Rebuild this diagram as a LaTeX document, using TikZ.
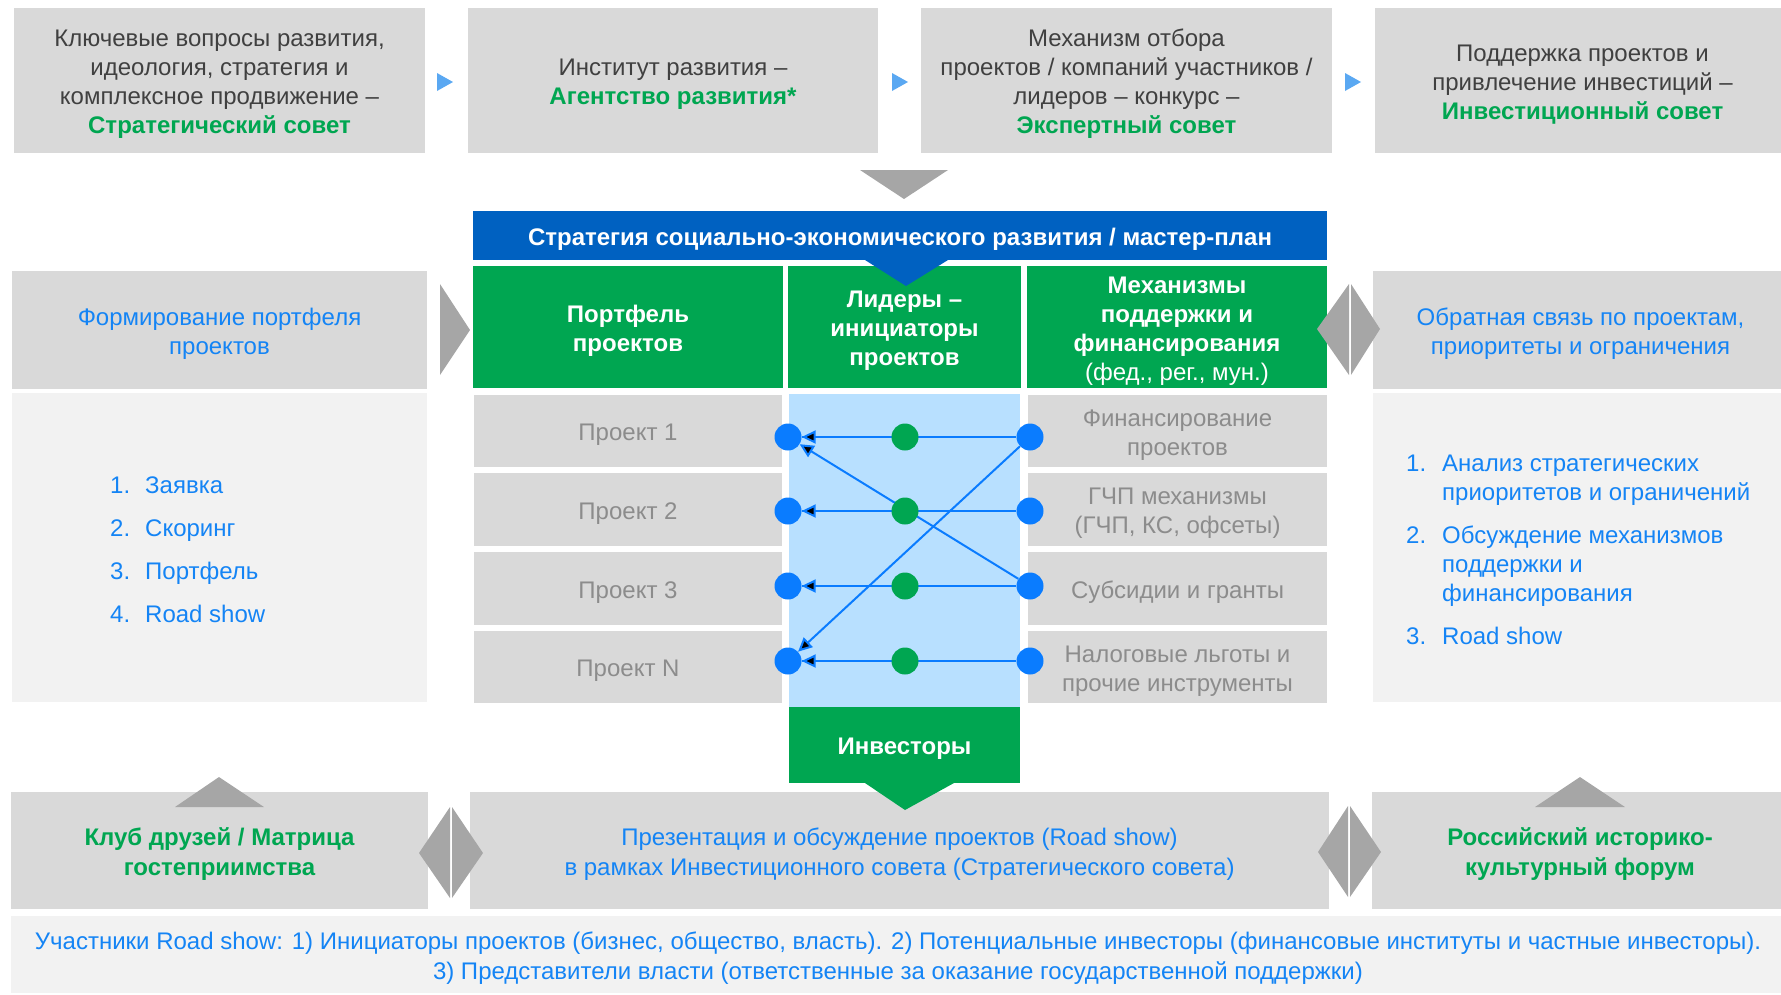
\documentclass[tikz,border=0pt]{standalone}
\usepackage{fontspec}
\setmainfont{Liberation Sans}
\usetikzlibrary{arrows.meta}

\definecolor{boxgray}{HTML}{D9D9D9}
\definecolor{panelgray}{HTML}{F2F2F2}
\definecolor{darktext}{HTML}{404040}
\definecolor{celltext}{HTML}{8C8C8C}
\definecolor{sgreen}{HTML}{00A651}
\definecolor{sblue}{HTML}{0061C1}
\definecolor{txtblue}{HTML}{1484F5}
\definecolor{dotblue}{HTML}{0A7CFF}
\definecolor{colblue}{HTML}{B8E0FF}
\definecolor{arrgray}{HTML}{A6A6A6}
\definecolor{triblue}{HTML}{5AA8F2}

% first line of a box text gets a fixed height
\newcommand{\linetop}{\rule{0pt}{25.5pt}}

\tikzstyle{bx}=[shape=rectangle,
                fill=boxgray,
                inner sep=0pt,
                align=center,
                execute at end node={\rule[-6pt]{0pt}{0pt}},
                font=\fontsize{24}{29}\selectfont]
\tikzstyle{topbox}=[bx, text=darktext]
\tikzstyle{sidebox}=[bx, text=txtblue]
\tikzstyle{panel}=[bx, fill=panelgray, text=txtblue]
\tikzstyle{headbox}=[bx, fill=sgreen, text=white,
                font=\fontsize{24}{29}\selectfont\bfseries]
\tikzstyle{cellbox}=[bx, text=celltext]
\tikzstyle{bdot}=[shape=circle, fill=dotblue, minimum size=27pt, inner sep=0pt]
\tikzstyle{gdot}=[shape=circle, fill=sgreen, minimum size=27pt, inner sep=0pt]
\tikzstyle{link}=[draw=dotblue, line width=2pt]

\begin{document}
\begin{tikzpicture}[x=1pt,y=-1pt,>={Triangle[length=14pt,width=13pt]}]

\useasboundingbox (0,0) rectangle (1781,994);

% top row
\node[topbox, minimum width=411pt, minimum height=145pt] (t1) at (219.5,80.5) {\linetop Ключевые вопросы развития,\\идеология, стратегия и\\комплексное продвижение –\\\textcolor{sgreen}{\bfseries Стратегический совет}};
\node[topbox, minimum width=410pt, minimum height=145pt] (t2) at (673,80.5) {\linetop Институт развития –\\\textcolor{sgreen}{\bfseries Агентство развития*}};
\node[topbox, minimum width=411pt, minimum height=145pt] (t3) at (1126.5,80.5) {\linetop Механизм отбора\\проектов / компаний участников /\\лидеров – конкурс –\\\textcolor{sgreen}{\bfseries Экспертный совет}};
\node[topbox, minimum width=415pt, minimum height=145pt] (t4) at (1582.5,80.5) {\linetop Поддержка проектов и\\привлечение инвестиций –\\\textcolor{sgreen}{\bfseries Инвестиционный совет}};

\fill[triblue] (437,73) -- (453,82) -- (437,91) -- cycle;
\fill[triblue] (892,73) -- (908,82) -- (892,91) -- cycle;
\fill[triblue] (1345,73) -- (1361,82) -- (1345,91) -- cycle;
\fill[arrgray] (860,170) -- (948,170) -- (904,199) -- cycle;

% strategy banner and headers
\node[bx, fill=sblue, text=white, font=\fontsize{24}{29}\selectfont\bfseries,
      minimum width=854pt, minimum height=49pt] (plan) at (900,235.5) {\linetop Стратегия социально-экономического развития / мастер-план};
\node[headbox, minimum width=310pt, minimum height=122pt] (h1) at (628,327) {\linetop Портфель\\проектов};
\node[headbox, minimum width=233pt, minimum height=122pt] (h2) at (904.5,327) {\linetop Лидеры –\\инициаторы\\проектов};
\node[headbox, minimum width=300pt, minimum height=122pt] (h3) at (1177,327) {\linetop Механизмы\\поддержки и\\финансирования\\{\mdseries (фед., рег., мун.)}};
\fill[sblue] (865,260) -- (948,260) -- (906,286) -- cycle;

% side panels
\node[sidebox, minimum width=415pt, minimum height=118pt] (s1) at (219.5,330) {\linetop Формирование портфеля\\проектов};
\node[panel, minimum width=415pt, minimum height=309pt] (p1) at (219.5,547.5) {};
\node[anchor=base west, inner sep=0pt, text=txtblue, font=\fontsize{24}{28.5}\selectfont] (list1) at (110,493)
  {\begin{tabular}[t]{@{}p{35pt}@{}l@{}}
   1. & Заявка\\[14.5pt]
   2. & Скоринг\\[14.5pt]
   3. & Портфель\\[14.5pt]
   4. & Road show
   \end{tabular}};
\fill[arrgray] (440,284) -- (470,330) -- (440,375) -- cycle;

\node[sidebox, minimum width=415pt, minimum height=118pt] (s2) at (1580.5,330) {\linetop Обратная связь по проектам,\\приоритеты и ограничения};
\node[panel, minimum width=415pt, minimum height=309pt] (p2) at (1580.5,547.5) {};
\node[anchor=base west, inner sep=0pt, text=txtblue, font=\fontsize{24}{29}\selectfont] (list2) at (1406,471)
  {\begin{tabular}[t]{@{}p{36pt}@{}l@{}}
   1. & Анализ стратегических\\
      & приоритетов и ограничений\\[14pt]
   2. & Обсуждение механизмов\\
      & поддержки и\\
      & финансирования\\[14pt]
   3. & Road show
   \end{tabular}};
\fill[arrgray] (1317,329) -- (1349,284) -- (1349,375) -- cycle;
\fill[arrgray] (1351,284) -- (1380,329) -- (1351,375) -- cycle;

% projects and mechanisms
\node[bx, fill=colblue, minimum width=231pt, minimum height=313pt] (lead) at (904.5,550.5) {};
\node[cellbox, minimum width=308pt, minimum height=72pt] (c1) at (628,431) {\linetop Проект 1};
\node[cellbox, minimum width=308pt, minimum height=73pt] (c2) at (628,509.5) {\linetop Проект 2};
\node[cellbox, minimum width=308pt, minimum height=73pt] (c3) at (628,588.5) {\linetop Проект 3};
\node[cellbox, minimum width=308pt, minimum height=72pt] (c4) at (628,667) {\linetop Проект N};
\node[cellbox, minimum width=299pt, minimum height=72pt] (m1) at (1177.5,431) {\linetop Финансирование\\проектов};
\node[cellbox, minimum width=299pt, minimum height=73pt] (m2) at (1177.5,509.5) {\linetop ГЧП механизмы\\(ГЧП, КС, офсеты)};
\node[cellbox, minimum width=299pt, minimum height=73pt] (m3) at (1177.5,588.5) {\linetop Субсидии и гранты};
\node[cellbox, minimum width=299pt, minimum height=72pt] (m4) at (1177.5,667) {\linetop Налоговые льготы и\\прочие инструменты};
\node[headbox, minimum width=231pt, minimum height=76pt] (inv) at (904.5,745) {\linetop Инвесторы};

% dots
\node[bdot] (l1) at (788,437) {};
\node[bdot] (l2) at (788,511) {};
\node[bdot] (l3) at (788,586) {};
\node[bdot] (l4) at (788,661) {};
\node[bdot] (r1) at (1030,437) {};
\node[bdot] (r2) at (1030,511) {};
\node[bdot] (r3) at (1030,586) {};
\node[bdot] (r4) at (1030,661) {};

% links
\path[link] (r1) edge (l1) (r2) edge (l2) (r3) edge (l3) (r4) edge (l4);
\path[link,->] (r3) edge (l1);
\path[link,->] (r1) edge (l4);

\node[gdot] (g1) at (905,437) {};
\node[gdot] (g2) at (905,511) {};
\node[gdot] (g3) at (905,586) {};
\node[gdot] (g4) at (905,661) {};
\path[link,->] (g1) edge (l1) (g2) edge (l2) (g3) edge (l3) (g4) edge (l4);

% bottom row
\node[bx, text=sgreen, font=\fontsize{24}{30}\selectfont\bfseries, minimum width=417pt, minimum height=117pt] (club) at (219.5,850.5) {\linetop Клуб друзей / Матрица\\гостеприимства};
\node[sidebox, font=\fontsize{24}{30}\selectfont, minimum width=859pt, minimum height=117pt] (road) at (899.5,850.5) {\linetop Презентация и обсуждение проектов (Road show)\\в рамках Инвестиционного совета (Стратегического совета)};
\node[bx, text=sgreen, font=\fontsize{24}{30}\selectfont\bfseries, minimum width=416pt, minimum height=117pt] (forum) at (1580,850.5) {\linetop Российский историко-\\культурный форум};
\node[panel, font=\fontsize{24}{30}\selectfont, minimum width=1774pt, minimum height=77pt] (note) at (898,954.5) {\linetop Участники Road show: 1) Инициаторы проектов (бизнес, общество, власть). 2) Потенциальные инвесторы (финансовые институты и частные инвесторы).\\3) Представители власти (ответственные за оказание государственной поддержки)};

\fill[arrgray] (175,807) -- (219,777) -- (264,807) -- cycle;
\fill[arrgray] (1535,807) -- (1580,777) -- (1625,807) -- cycle;
\fill[sgreen] (865,783) -- (954,783) -- (905,810) -- cycle;
\fill[arrgray] (419,853) -- (450,807) -- (450,898) -- cycle;
\fill[arrgray] (452,807) -- (483,853) -- (452,898) -- cycle;
\fill[arrgray] (1318,852) -- (1348,806) -- (1348,897) -- cycle;
\fill[arrgray] (1350,806) -- (1381,852) -- (1350,897) -- cycle;

\end{tikzpicture}
\end{document}
